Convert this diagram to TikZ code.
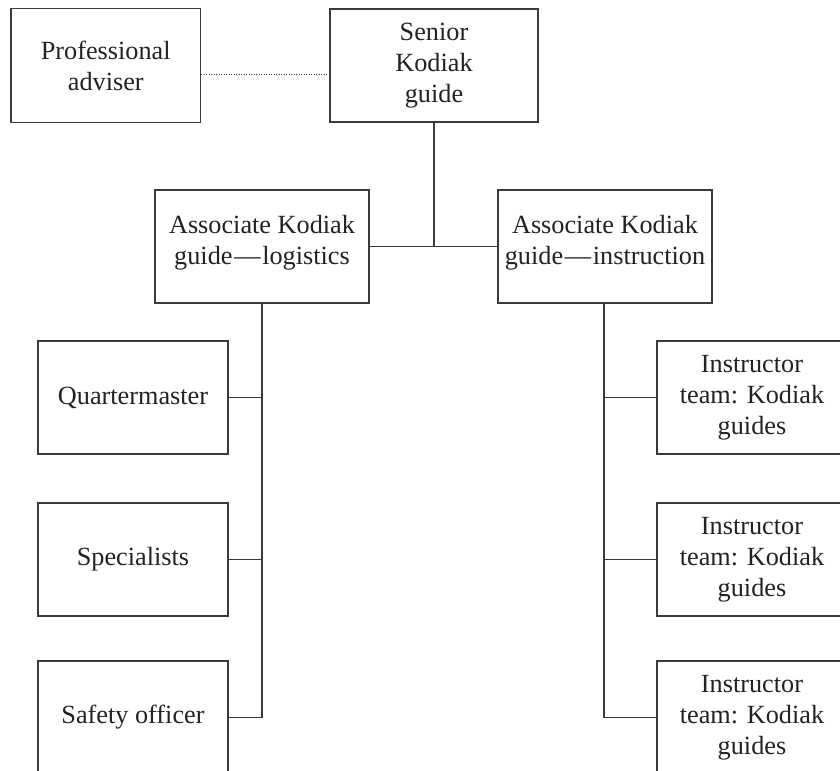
\documentclass[tikz,border=0pt]{standalone}
\usepackage{fontspec}
\setmainfont{Liberation Serif}
\definecolor{linec}{HTML}{3A3A3A}
\definecolor{textc}{HTML}{222222}
\begin{document}
\begin{tikzpicture}[x=0.4pt,y=-0.4pt,
  box/.style={draw=linec, line width=0.45pt, rectangle, inner sep=0pt, align=center,
    text=textc, font=\fontsize{10.5}{12.4}\selectfont},
  wbox/.style={box, minimum width=76pt, minimum height=45.2pt},
  abox/.style={box, minimum width=85.6pt, minimum height=45.2pt, text depth=5.3pt},
  conn/.style={draw=linec, line width=0.45pt},
  dotconn/.style={draw=linec, line width=0.4pt, dash pattern=on 0.4pt off 0.6pt}]
\path[use as bounding box, clip] (0,0) rectangle (840,771);
% top row
\node[box, minimum width=75.8pt, minimum height=45.6pt] (adv) at (105.75,65.5) {Professional\\adviser};
\node[box, minimum width=83.2pt, minimum height=45.2pt] (senior) at (434,65.5) {Senior\\Kodiak\\guide};
% associates
\node[abox] (logi) at (262,246.5) {Associate Kodiak\\guide\kern0.7pt—\kern0.7pt logistics};
\node[abox, line width=0.75pt] (instr) at (605,246.5) {Associate Kodiak\\guide\kern0.7pt—\kern0.7pt instruction};
% left column
\node[wbox] (qm) at (133,397.5) {Quartermaster};
\node[wbox] (spec) at (133,559.5) {Specialists};
\node[wbox] (safe) at (133,717.5) {Safety officer};
% right column
\node[wbox] (it1) at (752,397.5) {Instructor\\team: Kodiak\\guides};
\node[wbox] (it2) at (752,559.5) {Instructor\\team: Kodiak\\guides};
\node[wbox] (it3) at (752,717.5) {Instructor\\team: Kodiak\\guides};
% connectors
\draw[dotconn] ([yshift=-3.8pt]adv.east) -- ([yshift=-3.8pt]senior.west);
\draw[conn] (logi.east) -- (instr.west);
\draw[conn] (senior.south) -- (senior.south |- logi.east);
\draw[conn] (logi.south) -- (logi.south |- safe.east);
\draw[conn] (qm.east) -- (logi.south |- qm.east);
\draw[conn] (spec.east) -- (logi.south |- spec.east);
\draw[conn] (safe.east) -- (logi.south |- safe.east);
\draw[conn] ([xshift=-0.4pt]instr.south) -- ([xshift=-0.4pt]instr.south |- it3.west);
\draw[conn] (it1.west) -- ([xshift=-0.4pt]instr.south |- it1.west);
\draw[conn] (it2.west) -- ([xshift=-0.4pt]instr.south |- it2.west);
\draw[conn] (it3.west) -- ([xshift=-0.4pt]instr.south |- it3.west);
\end{tikzpicture}
\end{document}
